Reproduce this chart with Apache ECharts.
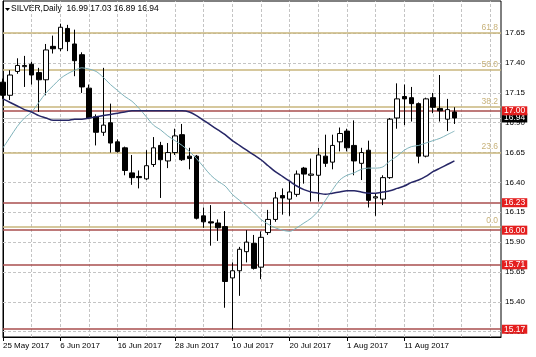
<!DOCTYPE html>
<html><head><meta charset="utf-8">
<script src="https://cdn.jsdelivr.net/npm/echarts@6/dist/echarts.min.js"></script>
<style>html,body{margin:0;padding:0;background:#fff}#c{width:536px;height:357px}</style>
</head><body><div id="c"></div>
<script>
// ---------- data ----------
const symbolName = 'SILVER,Daily';
const tradeDates = ['25 May','26 May','29 May','30 May','31 May','1 Jun','2 Jun','5 Jun','6 Jun','7 Jun','8 Jun','9 Jun','12 Jun','13 Jun','14 Jun','15 Jun','16 Jun','19 Jun','20 Jun','21 Jun','22 Jun','23 Jun','26 Jun','27 Jun','28 Jun','29 Jun','30 Jun','3 Jul','4 Jul','5 Jul','6 Jul','7 Jul','10 Jul','11 Jul','12 Jul','13 Jul','14 Jul','17 Jul','18 Jul','19 Jul','20 Jul','21 Jul','24 Jul','25 Jul','26 Jul','27 Jul','28 Jul','31 Jul','1 Aug','2 Aug','3 Aug','4 Aug','7 Aug','8 Aug','9 Aug','10 Aug','11 Aug','14 Aug','15 Aug','16 Aug','17 Aug','18 Aug','21 Aug','22 Aug'];
const opens  = [17.24,17.13,17.33,17.37,17.39,17.32,17.26,17.54,17.52,17.69,17.56,17.47,17.19,16.95,16.82,16.90,16.74,16.69,16.48,16.45,16.43,16.55,16.71,16.58,16.65,16.80,16.62,16.62,16.12,16.07,16.06,16.03,15.60,15.66,15.82,15.89,15.69,15.98,16.09,16.29,16.26,16.30,16.52,16.46,16.46,16.62,16.57,16.74,16.83,16.71,16.56,16.67,16.27,16.26,16.44,16.94,17.12,17.11,17.06,16.62,17.11,17.02,16.93,16.99];
const highs  = [17.27,17.34,17.44,17.46,17.41,17.36,17.56,17.63,17.73,17.72,17.68,17.49,17.22,16.97,17.36,17.06,16.76,16.70,16.63,16.50,16.67,16.78,16.74,16.73,16.85,16.89,16.69,16.63,16.19,16.21,16.09,16.16,15.73,15.86,16.00,15.96,15.99,16.17,16.32,16.35,16.41,16.50,16.53,16.60,16.69,16.80,16.80,16.86,16.85,16.92,16.69,16.75,16.31,16.46,16.94,17.23,17.22,17.20,17.07,17.11,17.15,17.30,17.10,17.03];
const lows   = [17.10,17.09,17.31,17.20,17.22,16.99,17.13,17.48,17.50,17.50,17.29,17.15,16.93,16.71,16.79,16.65,16.65,16.46,16.38,16.35,16.42,16.53,16.27,16.52,16.63,16.58,16.51,16.09,16.02,15.87,15.91,15.35,15.17,15.45,15.73,15.67,15.59,15.96,16.07,16.13,16.12,16.28,16.39,16.24,16.24,16.53,16.51,16.66,16.66,16.46,16.42,16.19,16.12,16.21,16.43,16.85,16.88,16.91,16.56,16.61,16.98,16.91,16.83,16.89];
const closes = [17.13,17.30,17.38,17.38,17.30,17.26,17.51,17.52,17.70,17.58,17.42,17.20,16.94,16.82,16.88,16.73,16.66,16.50,16.44,16.44,16.54,16.69,16.59,16.65,16.79,16.59,16.60,16.10,16.07,16.06,16.02,15.57,15.66,15.84,15.90,15.68,15.94,16.09,16.27,16.27,16.32,16.47,16.47,16.47,16.63,16.56,16.71,16.81,16.69,16.58,16.65,16.25,16.28,16.44,16.93,17.10,17.10,17.06,16.62,17.10,17.03,17.00,17.01,16.94];
const maFast = [16.69,16.78,16.87,16.94,16.99,17.07,17.15,17.21,17.27,17.31,17.34,17.36,17.35,17.33,17.28,17.22,17.17,17.12,17.08,17.02,16.95,16.88,16.84,16.79,16.75,16.71,16.66,16.60,16.53,16.46,16.41,16.37,16.30,16.25,16.20,16.15,16.09,16.05,16.02,16.00,15.99,16.02,16.06,16.10,16.16,16.25,16.34,16.42,16.46,16.48,16.51,16.52,16.52,16.53,16.58,16.62,16.67,16.70,16.71,16.73,16.75,16.77,16.80,16.83];
const maSlow = [17.10,17.07,17.04,17.01,16.99,16.96,16.94,16.92,16.92,16.92,16.93,16.93,16.94,16.95,16.96,16.97,16.98,16.99,17.00,17.00,17.00,17.00,17.00,17.00,17.00,17.00,16.99,16.96,16.92,16.88,16.84,16.80,16.75,16.71,16.67,16.63,16.59,16.54,16.49,16.45,16.41,16.37,16.34,16.32,16.31,16.30,16.31,16.32,16.33,16.33,16.32,16.31,16.31,16.32,16.33,16.35,16.37,16.40,16.42,16.45,16.49,16.52,16.55,16.58];
const priceTicks = [15.15,15.40,15.65,15.90,16.15,16.40,16.65,16.90,17.15,17.40,17.65];
const dateTickIndex = [0,8,16,24,32,40,48,56];
const dateTickLabels = ['25 May 2017','6 Jun 2017','16 Jun 2017','28 Jun 2017','10 Jul 2017','20 Jul 2017','1 Aug 2017','11 Aug 2017'];
const gridX = [4,8,12,16,20,24,28,32,36,40,44,48,52,56,60,64,68];
const fibLevels = [17.653,17.343,17.033,16.649,16.029];
const fibLabels = ['61.8','50.0','38.2','23.6','0.0'];
const levelLines = [17.00,16.23,16.00,15.71,15.17];
const lastPrice = 16.94;

// ---------- chart ----------
const FONT = '"Liberation Sans", Arial, sans-serif';
const chart = echarts.init(document.getElementById('c'), null, {renderer: 'canvas'});
const last = opens.length - 1;
const titleText = symbolName + '  ' + [opens[last], highs[last], lows[last], closes[last]].map(v => v.toFixed(2)).join(' ');
const candleData = opens.map((o, i) => [i, o, closes[i], lows[i], highs[i]]);

chart.setOption({
  animation: false,
  backgroundColor: '#ffffff',
  textStyle: {fontFamily: FONT},
  graphic: [
    {type: 'polygon', shape: {points: [[5, 8], [10, 8], [7.5, 11]]}, style: {fill: '#000'}},
    {type: 'text', left: 11, top: 4, style: {text: titleText, fontSize: 8.5, fontFamily: FONT, fill: '#000'}}
  ],
  grid: {left: 3, right: 35, top: 1, bottom: 20, show: true, borderColor: '#000', borderWidth: 1, backgroundColor: 'transparent'},
  xAxis: {
    type: 'value', min: 0, max: 69.5,
    axisLine: {show: true, lineStyle: {color: '#000'}},
    axisTick: {show: true, customValues: dateTickIndex, length: 4, lineStyle: {color: '#000'}},
    axisLabel: {customValues: dateTickIndex, formatter: v => dateTickLabels[dateTickIndex.indexOf(v)] || '', align: 'left', margin: 5, fontSize: 8, color: '#000', fontFamily: FONT},
    splitLine: {show: false}
  },
  yAxis: {
    type: 'value', position: 'right', min: 15.105, max: 17.92,
    axisLine: {show: true, lineStyle: {color: '#000'}},
    axisTick: {show: true, customValues: priceTicks, length: 3, lineStyle: {color: '#000'}},
    axisLabel: {customValues: priceTicks, formatter: v => v.toFixed(2), margin: 4, fontSize: 8, color: '#000', fontFamily: FONT},
    splitLine: {show: false}
  },
  series: [
    {
      type: 'line', data: [], silent: true,
      markLine: {
        silent: true, symbol: ['none', 'none'], z: 1, label: {show: false},
        lineStyle: {color: '#c4c4c4', type: [3, 2], width: 1},
        data: gridX.map(v => ({xAxis: v})).concat(priceTicks.map(v => ({yAxis: v})))
      }
    },
    {
      type: 'line', data: [], silent: true,
      markLine: {
        silent: true, symbol: ['none', 'none'], z: 1,
        lineStyle: {color: '#c9b67c', type: 'solid', width: 1.5},
        label: {show: true, position: 'insideEndTop', distance: [3, 1], formatter: p => p.name, color: '#c8b27a', fontSize: 8.5, fontFamily: FONT},
        data: fibLevels.map((v, i) => ({yAxis: v, name: fibLabels[i]}))
      }
    },
    {
      type: 'line', data: [], silent: true,
      markLine: {
        silent: true, symbol: ['none', 'none'], z: 1,
        lineStyle: {color: '#c8c8c8', type: 'solid', width: 1},
        label: {show: true, position: 'end', distance: 1, formatter: p => p.value.toFixed(2), color: '#fff', backgroundColor: '#000', padding: [1, 2, 0, 2], lineHeight: 8, fontSize: 8.5, fontFamily: FONT},
        data: [{yAxis: lastPrice}]
      }
    },
    {
      type: 'line', data: [], silent: true,
      markLine: {
        silent: true, symbol: ['none', 'none'], z: 1,
        lineStyle: {color: '#a84e4e', type: 'solid', width: 1.5},
        label: {show: true, position: 'end', distance: 1, formatter: p => p.value.toFixed(2), color: '#fff', backgroundColor: '#e41e1e', padding: [1, 2, 0, 2], lineHeight: 8, fontSize: 8.5, fontFamily: FONT},
        data: levelLines.map(v => ({yAxis: v}))
      }
    },
    {
      type: 'candlestick', data: candleData, barWidth: 5, clip: false, z: 2,
      itemStyle: {color: '#ffffff', color0: '#000000', borderColor: '#000000', borderColor0: '#000000', borderWidth: 1}
    },
    {
      type: 'line', data: maFast.map((v, i) => [i, v]), smooth: 0.3, symbol: 'none', z: 3,
      lineStyle: {color: '#7fb3bb', width: 1}
    },
    {
      type: 'line', data: maSlow.map((v, i) => [i, v]), smooth: 0.3, symbol: 'none', z: 3,
      lineStyle: {color: '#262666', width: 1.5}
    }
  ]
});
</script>
</body></html>
